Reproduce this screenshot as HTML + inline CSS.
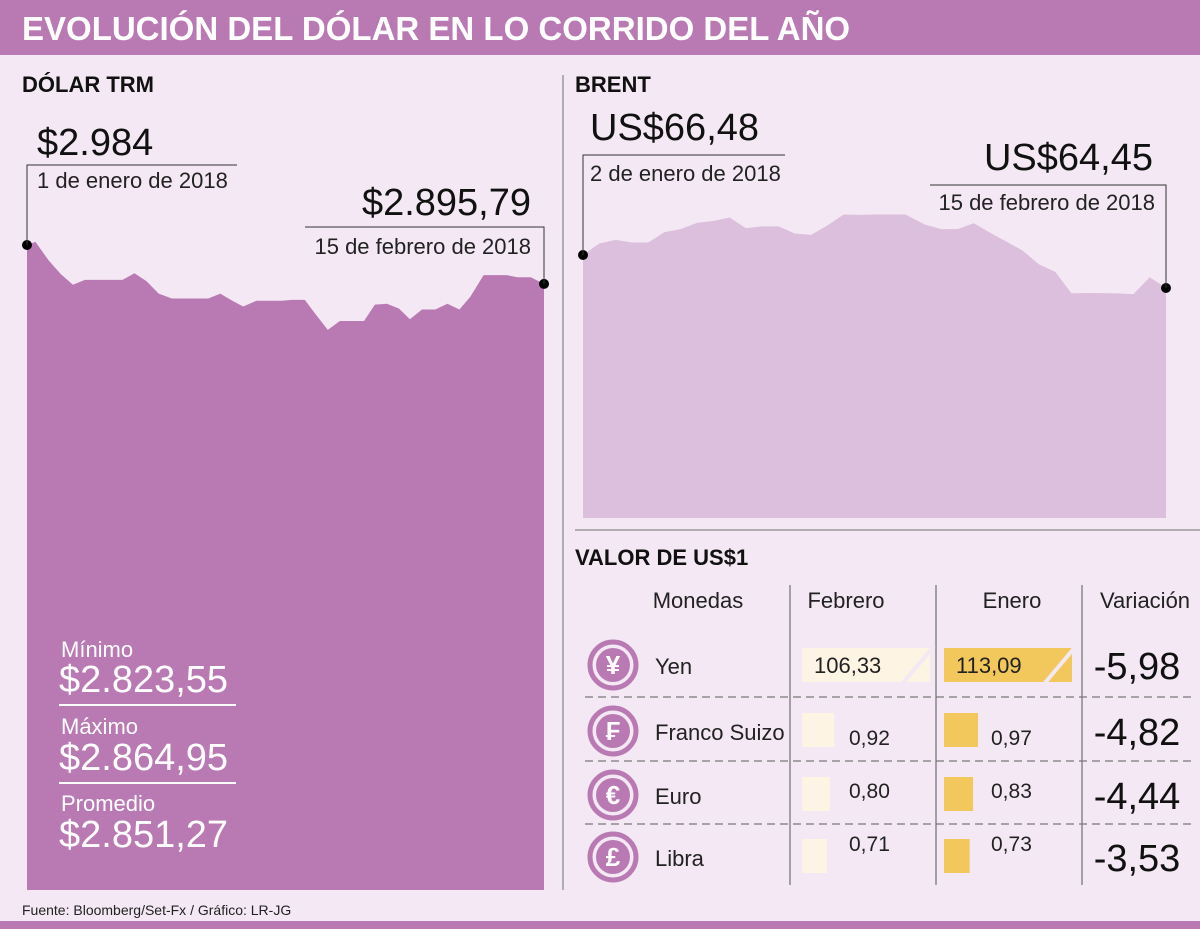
<!DOCTYPE html>
<html><head><meta charset="utf-8">
<style>
body{margin:0;width:1200px;height:929px;background:#f3e8f3;font-family:"Liberation Sans Narrow","Liberation Sans",sans-serif;overflow:hidden;position:relative}
svg{position:absolute;left:0;top:0}
</style></head><body>
<svg width="1200" height="929" viewBox="0 0 1200 929">
<rect x="0" y="0" width="1200" height="929" fill="#f3e8f3"/>
<rect x="0" y="0" width="1200" height="55" fill="#b97ab4"/>
<text x="22" y="40" font-size="33" font-weight="bold" fill="#fff" font-family="Liberation Sans Narrow, Liberation Sans, sans-serif">EVOLUCIÓN DEL DÓLAR EN LO CORRIDO DEL AÑO</text>
<rect x="0" y="921" width="1200" height="8" fill="#b97ab4"/>
<line x1="563" y1="75" x2="563" y2="890" stroke="#999" stroke-width="1.5"/>
<line x1="575" y1="530" x2="1200" y2="530" stroke="#999" stroke-width="1.5"/>
<text x="22" y="92" font-size="22" font-weight="bold" fill="#111">DÓLAR TRM</text>
<text x="575" y="92" font-size="22" font-weight="bold" fill="#111">BRENT</text>
<g id="trm"></g>
<g id="brent"></g>
<g>
<text x="37" y="155" font-size="38" fill="#111">$2.984</text>
<polyline points="27,245 27,165 237,165" fill="none" stroke="#333" stroke-width="1"/>
<text x="37" y="188" font-size="22" fill="#222">1 de enero de 2018</text>
<text x="531" y="215" font-size="38" fill="#111" text-anchor="end">$2.895,79</text>
<polyline points="305,227 544,227 544,284" fill="none" stroke="#333" stroke-width="1"/>
<text x="531" y="254" font-size="22" fill="#222" text-anchor="end">15 de febrero de 2018</text>
<text x="61" y="657" font-size="22" fill="#fff">Mínimo</text>
<text x="59" y="692" font-size="38" fill="#fff">$2.823,55</text>
<line x1="59" y1="705" x2="236" y2="705" stroke="#fff" stroke-width="2"/>
<text x="61" y="734" font-size="22" fill="#fff">Máximo</text>
<text x="59" y="770" font-size="38" fill="#fff">$2.864,95</text>
<line x1="59" y1="783" x2="236" y2="783" stroke="#fff" stroke-width="2"/>
<text x="61" y="811" font-size="22" fill="#fff">Promedio</text>
<text x="59" y="847" font-size="38" fill="#fff">$2.851,27</text>
</g>
<g>
<text x="590" y="140" font-size="38" fill="#111">US$66,48</text>
<polyline points="583,255 583,155 785,155" fill="none" stroke="#333" stroke-width="1"/>
<text x="590" y="181" font-size="22" fill="#222">2 de enero de 2018</text>
<text x="1153" y="170" font-size="38" fill="#111" text-anchor="end">US$64,45</text>
<polyline points="930,185 1166,185 1166,288" fill="none" stroke="#333" stroke-width="1"/>
<text x="1155" y="210" font-size="22" fill="#222" text-anchor="end">15 de febrero de 2018</text>
</g>
<text x="575" y="565" font-size="22" font-weight="bold" fill="#111">VALOR DE US$1</text>
<g id="table"></g>
<text x="22" y="915" font-size="14" fill="#222">Fuente: Bloomberg/Set-Fx / Gráfico: LR-JG</text>
</svg>
<script>
const NS='http://www.w3.org/2000/svg';
const trmDays=[0,0.7,1.8,2.8,3.8,4.8,7.9,8.9,9.9,10.9,12,15,16,17,17.9,19,21.1,21.9,23,23.9,24.9,25.9,27.9,28.8,29.8,30.8,31.7,32.7,33.8,34.8,35.8,36.7,37.8,39.7,40.6,41.7,42.8];
const trmValues=[2984,2991,2949,2918,2894,2905,2905,2920,2902,2874,2863,2863,2874,2858,2845,2858,2858,2860,2860,2827,2792,2812,2812,2849,2851,2840,2816,2838,2838,2851,2838,2867,2916,2916,2911,2911,2896];
const brentDays=[0,1,2,3,4,5,6,7,8,9,10,11,12,13,14,15,16,17,18,19.8,21,22,23,24,25,26,27,28,29,30,31,32.8,33.8,34.8,35.8];
const brentValues=[66.48,67.19,67.41,67.25,67.25,67.88,68.07,68.46,68.57,68.79,68.13,68.24,68.24,67.80,67.72,68.29,68.97,68.95,68.97,68.97,68.35,68.07,68.07,68.43,67.85,67.30,66.75,65.90,65.44,64.12,64.14,64.12,64.07,65.11,64.45];
const currencies=['Yen','Franco Suizo','Euro','Libra'];
const symbols=['¥','₣','€','£'];
const febValues=[106.33,0.92,0.80,0.71];
const janValues=[113.09,0.97,0.83,0.73];
const variation=['-5,98','-4,82','-4,44','-3,53'];
const fmt=v=>v.toFixed(2).replace('.',',');

function mk(tag,attrs,parent){const e=document.createElementNS(NS,tag);for(const k in attrs)e.setAttribute(k,attrs[k]);parent.appendChild(e);return e;}

function area(g,days,vals,x0,x1,dmax,v0,y0,v1,y1,bottom,fill,name){
  const sx=d=>x0+(x1-x0)*d/dmax, sy=v=>y0+(v-v0)*(y1-y0)/(v1-v0);
  let d=`M${sx(days[0])},${bottom}`;
  days.forEach((dd,i)=>{d+=` L${sx(dd)},${sy(vals[i])}`;});
  d+=` L${sx(days[days.length-1])},${bottom} Z`;
  const p=mk('path',{d:d,fill:fill},g);
  
  
  [0,days.length-1].forEach(i=>{
    const c=mk('circle',{cx:sx(days[i]),cy:sy(vals[i]),r:5,fill:'#000'},g);
    
    
  });
}
area(document.getElementById('trm'),trmDays,trmValues,27,544,42.8,2984,245,2895.79,284,890,'#b97ab4','trm-area');
area(document.getElementById('brent'),brentDays,brentValues,583,1166,35.8,66.48,255,64.45,288,518,'#dbbfdc','brent-area');

const t=document.getElementById('table');
[['Monedas',698],['Febrero',846],['Enero',1012],['Variación',1145]].forEach(([s,x])=>{
  const e=mk('text',{x:x,y:608,'font-size':22,fill:'#222','text-anchor':'middle'},t);e.textContent=s;
  
  
});
[790,936,1082].forEach(x=>{const l=mk('line',{x1:x,y1:585,x2:x,y2:885,stroke:'#888','stroke-width':1.5},t);
  
  });
const rowY=[665,731,795,857];
[697,761,824].forEach(y=>{const l=mk('line',{x1:585,y1:y,x2:1195,y2:y,stroke:'#777','stroke-width':1.2,'stroke-dasharray':'8,5'},t);
  
  });
currencies.forEach((c,i)=>{
  const y=rowY[i];
  const ci=mk('circle',{cx:613,cy:y,r:23,fill:'none',stroke:'#b97ab4','stroke-width':5},t);
  
  
  mk('circle',{cx:613,cy:y,r:17,fill:'#b97ab4'},t);
  const sy=mk('text',{x:613,y:y+9,'font-size':26,'font-weight':'bold',fill:'#fff','text-anchor':'middle'},t);sy.textContent=symbols[i];
  const n=mk('text',{x:655,y:y+9,'font-size':22,fill:'#222'},t);n.textContent=c;
  
  
  [[febValues,802,'#fdf4e4','feb'],[janValues,944,'#f2c75c','jan']].forEach(([arr,x,col,nm])=>{
    const v=arr[i];
    if(i===0){
      const r=mk('rect',{x:x,y:y-17,width:128,height:34,fill:col},t);
      
      
      mk('line',{x1:x+100,y1:y+19,x2:x+132,y2:y-19,stroke:'#f3e8f3','stroke-width':4},t);
      const tx=mk('text',{x:x+12,y:y+8,'font-size':22,fill:'#222'},t);tx.textContent=fmt(v);
    } else {
      const w=34*v/janValues[1];
      const r=mk('rect',{x:x,y:y-18,width:w,height:34,fill:col},t);
      
      
      const tx=mk('text',{x:x+47,y:y+(i===1?14:i===2?3:-6),'font-size':21,fill:'#222'},t);tx.textContent=fmt(v);
    }
  });
  const vv=mk('text',{x:1137,y:y+14,'font-size':38,fill:'#111','text-anchor':'middle'},t);vv.textContent=variation[i];
  
  
});
</script>
</body></html>
